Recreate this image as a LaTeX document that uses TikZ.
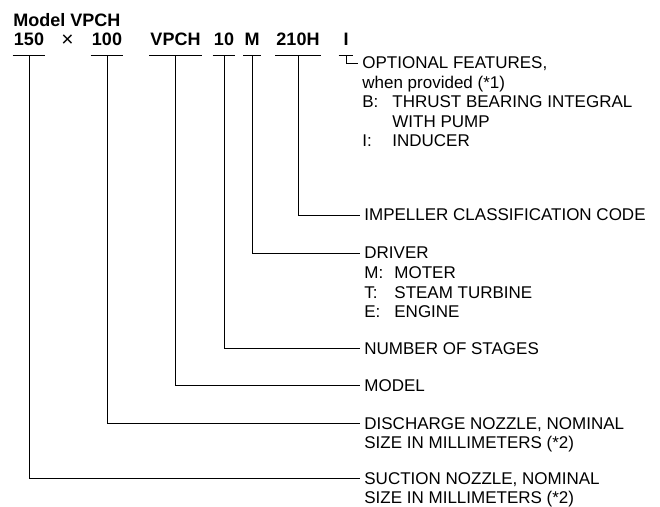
\documentclass[tikz,border=0pt]{standalone}
\usepackage{fontspec}
\setmainfont{Liberation Sans}
\newcommand{\optkey}[1]{\makebox[30bp][l]{#1}}

\begin{document}
\begin{tikzpicture}[x=1bp,y=-1bp,line width=0.8bp,
  code/.style={anchor=base,font=\fontsize{18bp}{20bp}\selectfont\bfseries,inner sep=0pt,inner xsep=1bp,text depth=9bp},
  desc/.style={anchor=base west,inner sep=0pt,inner xsep=4bp,font=\fontsize{17bp}{19.5bp}\selectfont}]
\useasboundingbox (0,0) rectangle (660,507);
% model code
\node[anchor=base west,inner sep=0pt,font=\fontsize{18bp}{20bp}\selectfont\bfseries] (title) at (13,27) {Model VPCH};
\node[code] (c150) at (29,46) {150};
\node[anchor=base,inner sep=0pt,font=\fontsize{21bp}{22bp}\selectfont] (times) at (67.5,47) {×};
\node[code] (c100) at (107,46) {100};
\node[code] (cvpch) at (175.5,46) {VPCH};
\node[code] (c10) at (224,46) {10};
\node[code] (cm) at (252,46) {M};
\node[code] (c210) at (298,46) {210H};
\node[code,minimum width=14bp] (ci) at (346,46) {I};
\foreach \c in {c150,c100,cvpch,c10,cm,c210,ci}
  \draw (\c.south west) -- (\c.south east);
% meanings
\node[desc,xshift=-2bp] (dopt) at (360,69) {\begin{tabular}[t]{@{}l@{}}OPTIONAL FEATURES,\\ when provided (*1)\\ \optkey{B:}THRUST BEARING INTEGRAL\\ \optkey{}WITH PUMP\\ \optkey{I:}INDUCER\end{tabular}};
\node[desc] (dimp) at (360,221) {IMPELLER CLASSIFICATION CODE};
\node[desc] (ddrv) at (360,259) {\begin{tabular}[t]{@{}l@{}}DRIVER\\ \optkey{M:}MOTER\\ \optkey{T:}STEAM TURBINE\\ \optkey{E:}ENGINE\end{tabular}};
\node[desc] (dstg) at (360,354) {NUMBER OF STAGES};
\node[desc] (dmod) at (360,391) {MODEL};
\node[desc] (ddis) at (360,429) {\begin{tabular}[t]{@{}l@{}}DISCHARGE NOZZLE, NOMINAL\\ SIZE IN MILLIMETERS (*2)\end{tabular}};
\node[desc] (dsuc) at (360,484) {\begin{tabular}[t]{@{}l@{}}SUCTION NOZZLE, NOMINAL\\[-0.5bp] SIZE IN MILLIMETERS (*2)\end{tabular}};
% leaders
\draw (ci.south) |- ([yshift=6bp]dopt.base west);
\draw (c210.south) |- ([yshift=6bp]dimp.base west);
\draw (cm.south) |- ([yshift=6bp]ddrv.base west);
\draw (c10.south) |- ([yshift=6bp]dstg.base west);
\draw (cvpch.south) |- ([yshift=6bp]dmod.base west);
\draw (c100.south) |- ([yshift=6bp]ddis.base west);
\draw (c150.south) |- ([yshift=6bp]dsuc.base west);
\end{tikzpicture}
\end{document}
